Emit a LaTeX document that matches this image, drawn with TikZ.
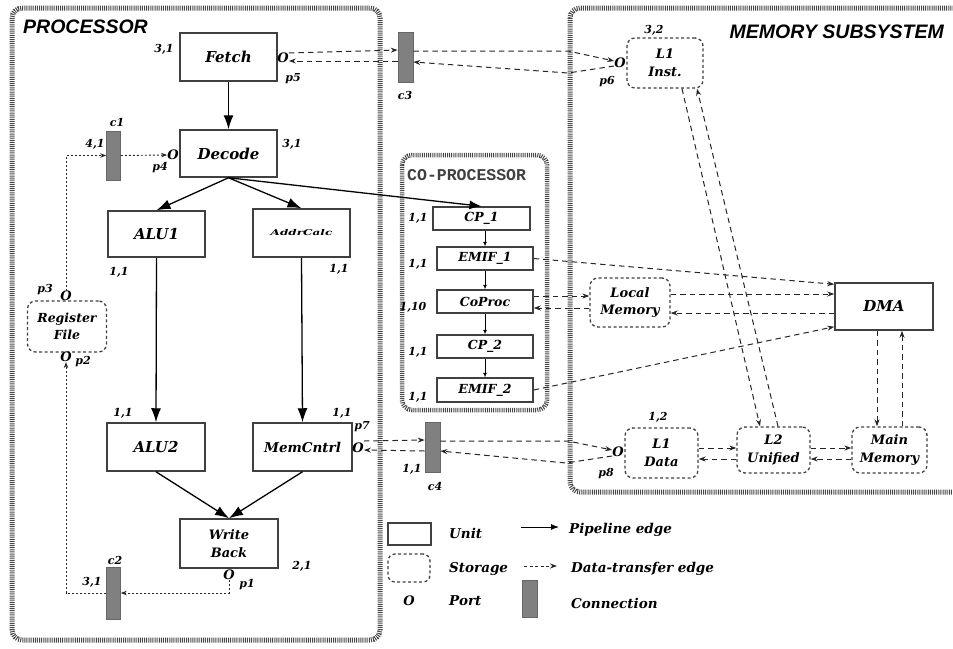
\documentclass[tikz,border=0pt]{standalone}
\usepackage{graphicx}
\usepackage{fontspec}
\setmainfont{DejaVu Serif}
\newfontfamily\headsans{Liberation Sans}
\newfontfamily\headmono{Liberation Mono}
\usetikzlibrary{arrows.meta}

\tikzset{
  container/.style={draw=black!72, line width=5pt, dash pattern=on 1pt off 1.1pt, rounded corners=10pt},
  unit/.style={draw=black!75, line width=1.5pt, fill=white, inner sep=0pt,
    font=\bfseries\itshape\fontsize{15}{17}\selectfont},
  cpunit/.style={unit, minimum width=96pt, minimum height=23pt,
    font=\bfseries\itshape\fontsize{12.5}{14}\selectfont},
  storage/.style={draw=black!75, line width=1.3pt, dash pattern=on 3pt off 2.5pt,
    rounded corners=8pt, fill=white, inner sep=0pt, align=center,
    font=\bfseries\itshape\fontsize{13}{17.5}\selectfont},
  conn/.style={draw=black!60, fill=black!50, line width=0.6pt, minimum width=14pt,
    minimum height=50pt, inner sep=0pt},
  lbl/.style={inner sep=0pt, font=\bfseries\itshape\fontsize{11}{12}\selectfont},
  port/.style={inner sep=0pt, font=\bfseries\itshape\fontsize{13}{13}\selectfont},
  legtext/.style={inner sep=0pt, anchor=west, font=\bfseries\itshape\fontsize{13.5}{14}\selectfont},
  pipe/.style={draw=black, line width=1.3pt, -{Latex[length=14pt,width=10pt]}},
  cparrow/.style={draw=black, line width=0.8pt, -{Latex[length=4.5pt,width=4pt]}},
  data/.style={draw=black!85, line width=1pt, dash pattern=on 5.5pt off 4pt, -{Stealth[length=7pt,width=5pt]}},
  fine/.style={draw=black!85, line width=0.9pt, dash pattern=on 2pt off 2pt, -{Stealth[length=6pt,width=4.5pt]}},
}

\begin{document}
\begin{tikzpicture}[x=1pt,y=-1pt]
\useasboundingbox (0,0) rectangle (953,648);
\clip (0,0) rectangle (953,648);

% ---------- enclosing blocks ----------
\draw[container] (12,8) rectangle (380,640);
\draw[container] (570,8) rectangle (975,492);
\draw[container, line width=4.5pt] (402,155) rectangle (547,410);

\node[anchor=west, inner sep=0pt, font=\headsans\bfseries\itshape\fontsize{19.5}{20}\selectfont] (proctitle) at (23,27) {PROCESSOR};
\node[anchor=east, inner sep=0pt, font=\headsans\bfseries\itshape\fontsize{19.5}{20}\selectfont] (memtitle) at (944,32) {MEMORY SUBSYSTEM};
\node[anchor=west, inner sep=0pt, text=black!75, font=\headmono\bfseries\fontsize{16.5}{17}\selectfont] (cptitle) at (407,175) {CO-PROCESSOR};

% ---------- processor units ----------
\node[unit, minimum width=97pt, minimum height=48pt] (fetch)  at (228.5,57)   {Fetch};
\node[unit, minimum width=97pt, minimum height=47pt] (decode) at (228.5,153.5) {Decode};
\node[unit, minimum width=97pt, minimum height=46pt] (alu1)   at (156.5,234)  {ALU1};
\node[unit, minimum width=97pt, minimum height=48pt, font=\bfseries\itshape\fontsize{8}{9}\selectfont] (addr) at (301.5,233) {\scalebox{1.5}[1]{AddrCalc}};
\node[unit, minimum width=98pt, minimum height=48pt] (alu2)   at (156,447)    {ALU2};
\node[unit, minimum width=99pt, minimum height=48pt, font=\bfseries\itshape\fontsize{13.5}{15}\selectfont] (memc) at (302.5,447) {MemCntrl};
\node[unit, minimum width=98pt, minimum height=49pt, align=center, font=\bfseries\itshape\fontsize{13}{18}\selectfont] (wb) at (229,543.5) {Write\\Back};
\node[storage, minimum width=79pt, minimum height=51pt, font=\bfseries\itshape\fontsize{12.5}{17.5}\selectfont] (regf) at (67,326.5) {Register\\File};

\node[lbl] (lfetch)  at (164,49)  {3,1};
\node[lbl] (ldecode) at (292,144) {3,1};
\node[lbl] (lalu1)   at (119,272) {1,1};
\node[lbl] (laddr)   at (339,269) {1,1};
\node[lbl] (lalu2)   at (123,413) {1,1};
\node[lbl] (lmemc)   at (342,413) {1,1};
\node[lbl] (lwb)     at (302,566) {2,1};

% ports
\node[port] (p5) at (283,58)  {O};
\node[lbl]  (lp5) at (293,79) {p5};
\node[port] (p4) at (173,155) {O};
\node[lbl]  (lp4) at (160,168) {p4};
\node[port] (p3) at (66,296)  {O};
\node[lbl]  (lp3) at (45,290) {p3};
\node[port] (p2) at (66,357)  {O};
\node[lbl]  (lp2) at (83,362) {p2};
\node[port] (p1) at (229,575) {O};
\node[lbl]  (lp1) at (247,585) {p1};
\node[port] (p7) at (358,448) {O};
\node[lbl]  (lp7) at (362,427) {p7};

% connections
\node[conn, minimum height=49pt] (c1) at (113.5,155.5) {};
\node[lbl] (lc1) at (117,122) {c1};
\node[lbl] (wc1) at (95,144)  {4,1};
\node[conn, minimum height=52pt] (c2) at (113.5,593) {};
\node[lbl] (lc2) at (115,560) {c2};
\node[lbl] (wc2) at (92,582)  {3,1};
\node[conn, minimum width=15pt] (c3) at (405.5,57) {};
\node[lbl] (lc3) at (405,95)  {c3};
\node[conn, minimum width=15pt] (c4) at (432.5,447) {};
\node[lbl] (lc4) at (435,486) {c4};
\node[lbl] (wc4) at (412,469) {1,1};

% ---------- co-processor ----------
\node[cpunit, minimum width=97pt] (cp1) at (481.5,218.5) {CP\_1};
\node[cpunit] (emif1)  at (485,258.5) {EMIF\_1};
\node[cpunit] (coproc) at (485,301.5) {CoProc};
\node[cpunit] (cp2)    at (485,346.5) {CP\_2};
\node[cpunit, minimum height=24pt] (emif2) at (485,390) {EMIF\_2};
\node[lbl] (lcp1)    at (418,218) {1,1};
\node[lbl] (lemif1)  at (418,264) {1,1};
\node[lbl] (lcoproc) at (413,307) {1,10};
\node[lbl] (lcp2)    at (418,352) {1,1};
\node[lbl] (lemif2)  at (418,397) {1,1};

% ---------- memory subsystem ----------
\node[storage, minimum width=76pt, minimum height=50pt] (l1i)  at (665,63)    {L1\\Inst.};
\node[lbl] (ll1i) at (654,30) {3,2};
\node[port] (p6) at (620,63) {O};
\node[lbl]  (lp6) at (607,82) {p6};
\node[storage, minimum width=80pt, minimum height=49pt] (lm)   at (630,302.5) {Local\\Memory};
\node[unit, minimum width=98pt, minimum height=47pt] (dma) at (884,306.5) {DMA};
\node[storage, minimum width=73pt, minimum height=50pt] (l1d)  at (661.5,453) {L1\\Data};
\node[lbl] (ll1d) at (658,417) {1,2};
\node[port] (p8) at (618,452) {O};
\node[lbl]  (lp8) at (606,474) {p8};
\node[storage, minimum width=73pt, minimum height=46pt] (l2)   at (773.5,450) {L2\\Unified};
\node[storage, minimum width=75pt, minimum height=46pt] (mainm) at (889.5,450) {Main\\Memory};

% ---------- pipeline edges ----------
\draw[pipe] (fetch.south) -- (decode.north);
\draw[pipe] (decode.south) -- (alu1.north);
\draw[pipe] (decode.south) -- (addr.north);
\draw[pipe, -{Latex[length=12pt,width=9pt]}] (decode.south) -- (cp1.north);
\draw[pipe] (alu1.south) -- (alu2.north);
\draw[pipe] (addr.south) -- (memc.north);
\draw[pipe] (alu2.south) -- (wb.north);
\draw[pipe] (memc.south) -- (wb.north);
\draw[cparrow] (emif1.north |- cp1.south) -- (emif1.north);
\draw[cparrow] (emif1.south) -- (coproc.north);
\draw[cparrow] (coproc.south) -- (cp2.north);
\draw[cparrow] (cp2.south) -- (emif2.north);

% ---------- register file transfers ----------
\draw[fine] (p3.north) -- (p3.north |- c1.west) -- (c1.west);
\draw[fine] (c1.east) -- (p4.west);
\draw[fine] (p1.south) -- (p1.south |- c2.east) -- (c2.east);
\draw[fine] (c2.west) -- (c2.west -| p2.south) -- (p2.south);

% ---------- instruction path through c3 ----------
\coordinate (c3up) at (568,51);
\coordinate (c3lo) at (568,73);
\draw[data] ([yshift=5pt]p5.east) -- ([yshift=7pt]c3.west);
\draw[data] ([yshift=-4pt]c3.west) -- ([yshift=-3pt]p5.east);
\draw[data] ([yshift=6pt]c3.east) -- (c3up) -- ([yshift=2pt]p6.west);
\draw[data] ([yshift=-3pt]p6.west) -- (c3lo) -- ([yshift=-5pt]c3.east);

% ---------- data path through c4 ----------
\coordinate (c4up) at (568,441);
\coordinate (c4lo) at (566,463);
\draw[data] ([yshift=7pt]p7.east) -- ([yshift=7pt]c4.west);
\draw[data] ([yshift=-4pt]c4.west) -- ([yshift=-2pt]p7.east);
\draw[data] ([yshift=6pt]c4.east) -- (c4up) -- ([yshift=2pt]p8.west);
\draw[data] ([yshift=-4pt]p8.west) -- (c4lo) -- ([yshift=-4pt]c4.east);

% ---------- co-processor and DMA transfers ----------
\draw[data] (emif1.east) -- ([yshift=-2pt]dma.north west);
\draw[data] ([yshift=5.5pt]coproc.east) -- ([yshift=6.5pt]lm.west);
\draw[data] ([yshift=-5.5pt]lm.west) -- ([yshift=-6.5pt]coproc.east);
\draw[data] ([yshift=8.5pt]lm.east) -- ([yshift=12.5pt]dma.west);
\draw[data] ([yshift=-6.5pt]dma.west) -- ([yshift=-10.5pt]lm.east);
\draw[data] (emif2.east) -- ([yshift=4pt]dma.south west);
\draw[data] ([xshift=-7pt]dma.south) -- ([xshift=-12.5pt]mainm.north);
\draw[data] ([xshift=12.5pt]mainm.north) -- ([xshift=18pt]dma.south);

% ---------- cache hierarchy ----------
\draw[data] ([xshift=17pt]l1i.south) -- ([xshift=-13.5pt]l2.north);
\draw[data] ([xshift=4.5pt]l2.north) -- ([xshift=32pt]l1i.south);
\draw[data] ([yshift=5pt]l1d.east) -- ([yshift=2pt]l2.west);
\draw[data] ([yshift=-9pt]l2.west) -- ([yshift=-6pt]l1d.east);
\draw[data] ([yshift=2pt]l2.east) -- ([yshift=2pt]mainm.west);
\draw[data] ([yshift=-9pt]mainm.west) -- ([yshift=-9pt]l2.east);

% ---------- legend ----------
\node[unit, minimum width=43pt, minimum height=22pt] (legunit) at (409.5,534) {};
\node[legtext] (tunit) at (449,533) {Unit};
\coordinate (legpa) at (521,527);
\coordinate (legpb) at (559,527);
\draw[pipe, line width=1pt, -{Latex[length=8pt,width=6pt]}] (legpa) -- (legpb);
\node[legtext] (tpipe) at (569,530) {Pipeline edge};
\node[storage, minimum width=42pt, minimum height=28pt, rounded corners=7pt] (legstor) at (409,568) {};
\node[legtext] (tstor) at (449,569) {Storage};
\coordinate (legda) at (524,566);
\coordinate (legdb) at (557,566);
\draw[data, dash pattern=on 3pt off 2.5pt] (legda) -- (legdb);
\node[legtext] (tdata) at (571,569) {Data-transfer edge};
\node[port] (legport) at (409,601) {O};
\node[legtext] (tport) at (449,601) {Port};
\node[conn, minimum width=15pt, minimum height=37pt] (legconn) at (529.5,598.5) {};
\node[legtext] (tconn) at (571,603) {Connection};
\end{tikzpicture}
\end{document}
